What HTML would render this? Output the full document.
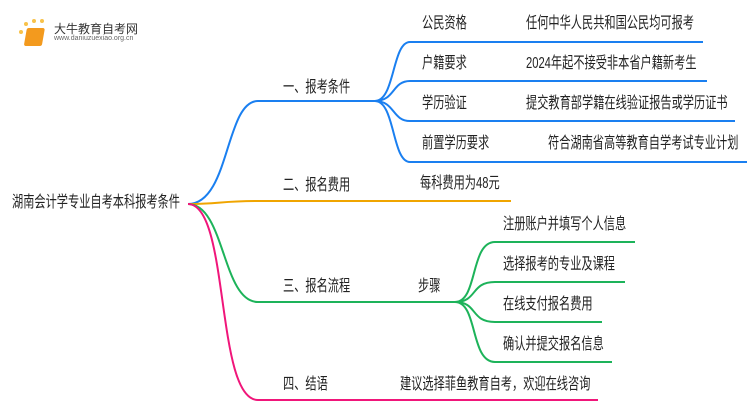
<!DOCTYPE html>
<html><head><meta charset="utf-8"><style>
body{margin:0;width:750px;height:410px;background:#fff;overflow:hidden;position:relative;font-family:"Liberation Sans","Noto Sans CJK SC",sans-serif}
.t{position:absolute;font-size:16px;color:#222;white-space:nowrap;line-height:20px;transform:scaleX(0.7);transform-origin:0 0}
.l{position:absolute;white-space:nowrap}
</style></head><body>
<svg width="750" height="410" style="position:absolute;left:0;top:0" fill="none" stroke-width="2">
<g stroke="#1a7ff0">
<path d="M188,204 C230,204 225,101 258,101 L375,101"/>
<path d="M375,101 C395,101 392,42 410,42 L703,42"/>
<path d="M375,101 C395,101 392,81 410,81 L707,81"/>
<path d="M375,101 C395,101 392,121 410,121 L735,121"/>
<path d="M375,101 C395,101 392,162 410,162 L747,162"/>
</g>
<path stroke="#f0a500" d="M188,204 C220,204 220,201 258,201 L511,201"/>
<g stroke="#1db35a">
<path d="M188,204 C225,204 222,302 258,302 L455,302"/>
<path d="M455,302 C478,302 470,242 495,242 L635,242"/>
<path d="M455,302 C478,302 470,282 495,282 L625,282"/>
<path d="M455,302 C478,302 470,322 495,322 L602,322"/>
<path d="M455,302 C478,302 470,362 495,362 L612,362"/>
</g>
<path stroke="#f0167a" d="M188,204 C230,204 215,400 258,400 L598,400"/>
<g transform="translate(22,22)">
<rect x="6" y="6" width="18" height="18" rx="2" fill="#f39a1e" stroke="none" transform="skewX(-10)"/>
<circle cx="4" cy="2" r="2" fill="#f8c24a" stroke="none"/><circle cx="12" cy="-1" r="2" fill="#f8c24a" stroke="none"/><circle cx="20" cy="-1" r="2" fill="#f8c24a" stroke="none"/><circle cx="-1" cy="10" r="2" fill="#f8c24a" stroke="none"/>
</g>
</svg>
<div class="l" style="left:54px;top:20px;font-size:12px;color:#333">大牛教育自考网</div>
<div class="l" style="left:54px;top:34px;font-size:7px;color:#666;line-height:10px">www.daniuzuexiao.org.cn</div>
<div class="t" style="left:12px;top:193px">湖南会计学专业自考本科报考条件</div>
<div class="t" style="left:283px;top:78px">一、报考条件</div>
<div class="t" style="left:283px;top:176px">二、报名费用</div>
<div class="t" style="left:283px;top:277px">三、报名流程</div>
<div class="t" style="left:283px;top:375px">四、结语</div>
<div class="t" style="left:422px;top:14px">公民资格</div>
<div class="t" style="left:526px;top:14px">任何中华人民共和国公民均可报考</div>
<div class="t" style="left:422px;top:54px">户籍要求</div>
<div class="t" style="left:526px;top:54px">2024年起不接受非本省户籍新考生</div>
<div class="t" style="left:422px;top:94px">学历验证</div>
<div class="t" style="left:526px;top:94px">提交教育部学籍在线验证报告或学历证书</div>
<div class="t" style="left:422px;top:134px">前置学历要求</div>
<div class="t" style="left:548px;top:134px">符合湖南省高等教育自学考试专业计划</div>
<div class="t" style="left:420px;top:174px">每科费用为48元</div>
<div class="t" style="left:418px;top:277px">步骤</div>
<div class="t" style="left:503px;top:215px">注册账户并填写个人信息</div>
<div class="t" style="left:503px;top:255px">选择报考的专业及课程</div>
<div class="t" style="left:503px;top:295px">在线支付报名费用</div>
<div class="t" style="left:503px;top:335px">确认并提交报名信息</div>
<div class="t" style="left:400px;top:375px">建议选择菲鱼教育自考，欢迎在线咨询</div>
</body></html>
